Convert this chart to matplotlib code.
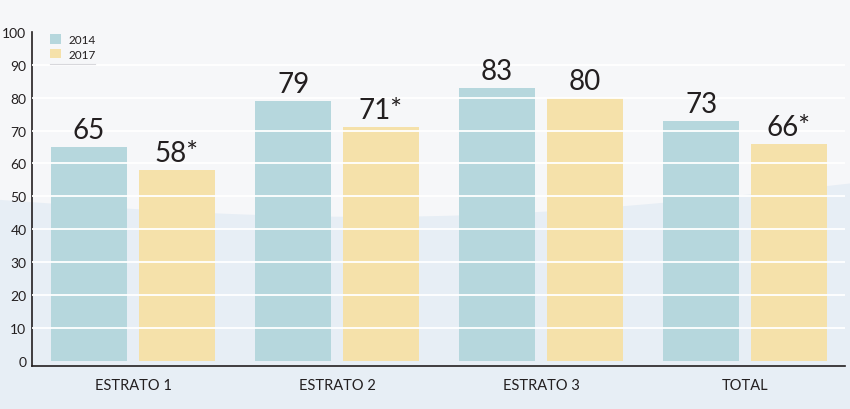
import numpy as np
import matplotlib.pyplot as plt

categories = ['ESTRATO 1', 'ESTRATO 2', 'ESTRATO 3', 'TOTAL']
v2014 = [65, 79, 83, 73]
v2017 = [58, 71, 80, 66]
lab2014 = ['65', '79', '83', '73']
lab2017 = ['58*', '71*', '80', '66*']
yticks = [0, 10, 20, 30, 40, 50, 60, 70, 80, 90, 100]

c14 = '#b6d7dd'
c17 = '#f5e1aa'
txt = '#231f20'

plt.rcParams['font.family'] = ['Lato', 'DejaVu Sans']

fig = plt.figure(figsize=(8.5, 4.1), dpi=100)
fig.patch.set_facecolor('#f6f7f9')

# background wave
bg = fig.add_axes([0, 0, 1, 1], zorder=0)
bg.set_xlim(0, 1)
bg.set_ylim(0, 1)
bg.axis('off')
xs = np.linspace(0, 1, 200)
top = 0.51 - 0.06 * np.sin(np.pi * xs) + 0.04 * xs
bg.fill_between(xs, 0, top, color='#e7eef5', lw=0)

ax = fig.add_axes([32 / 850, 43 / 410, 813 / 850, 334 / 410], zorder=1)
ax.patch.set_alpha(0)

x = np.arange(len(categories))
w = 0.375
off = 0.215
b1 = ax.bar(x - off, v2014, w, color=c14, label='2014', zorder=2)
b2 = ax.bar(x + off, v2017, w, color=c17, label='2017', zorder=2)

for xi, v, s in zip(x, v2014, lab2014):
    ax.text(xi - off, v + 1.2, s, ha='center', va='bottom', fontsize=20,
            color=txt, zorder=5)
for xi, v, s in zip(x, v2017, lab2017):
    ax.text(xi + off, v + 1.2, s, ha='center', va='bottom', fontsize=20,
            color=txt, zorder=5)

ax.set_xlim(-0.495, 3.49)
ax.set_ylim(-1.6, 100)
ax.set_yticks(yticks)
ax.set_yticklabels([str(t) for t in yticks], fontsize=10, color=txt)
ax.set_xticks(x)
ax.set_xticklabels(categories, fontsize=10.5, color=txt)
ax.tick_params(length=0)
ax.tick_params(axis='y', pad=4)
ax.tick_params(axis='x', pad=9)
for t in ax.get_yticklabels():
    t.set_va('center_baseline')

for t in yticks[1:-1]:
    ax.axhline(t, color='white', lw=1.3, zorder=3)

for s in ['top', 'right']:
    ax.spines[s].set_visible(False)
ax.spines['left'].set_color(txt)
ax.spines['bottom'].set_color(txt)
ax.spines['left'].set_linewidth(1.2)
ax.spines['bottom'].set_linewidth(1.2)

leg = ax.legend(loc='upper left', bbox_to_anchor=(0.014, 1.015), frameon=False,
                fontsize=8.5, handlelength=0.9, handleheight=0.9,
                handletextpad=0.6, labelspacing=0.3, borderaxespad=0.2)
for t in leg.get_texts():
    t.set_color(txt)
fig.lines.append(plt.Line2D([50 / 850, 95 / 850], [345 / 410, 345 / 410],
                            transform=fig.transFigure, color='#d8d8dc', lw=0.8))

fig.savefig('out.png', dpi=100, facecolor=fig.get_facecolor())
